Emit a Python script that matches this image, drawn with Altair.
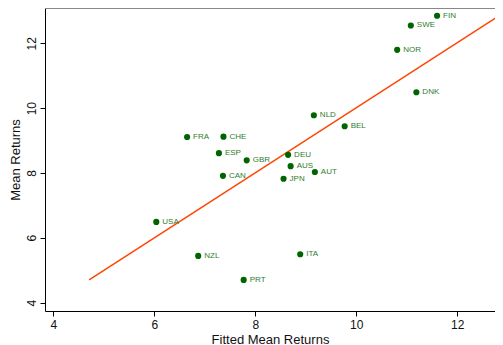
import altair as alt
import pandas as pd

countries = ["FIN", "SWE", "NOR", "DNK", "NLD", "BEL", "DEU", "AUS", "AUT", "JPN", "ITA",
             "FRA", "CHE", "ESP", "GBR", "CAN", "USA", "NZL", "PRT"]
fitted = [11.60, 11.08, 10.81, 11.19, 9.16, 9.77, 8.65, 8.70, 9.18, 8.56, 8.89,
          6.65, 7.37, 7.28, 7.83, 7.36, 6.04, 6.87, 7.77]
mean_ret = [12.85, 12.55, 11.80, 10.49, 9.78, 9.44, 8.56, 8.21, 8.03, 7.82, 5.49,
            9.11, 9.12, 8.61, 8.39, 7.91, 6.49, 5.44, 4.70]
line_x = [4.71, 12.83]
line_y = [4.70, 12.85]

df = pd.DataFrame({"country": countries, "fitted": fitted, "mean": mean_ret})
ldf = pd.DataFrame({"x": line_x, "y": line_y})

W, H = 450, 303
xs = alt.Scale(domain=[3.836, 12.747], nice=False, zero=False)
ys = alt.Scale(domain=[3.74, 13.09], nice=False, zero=False)

xaxis = alt.Axis(title="Fitted Mean Returns", values=[4, 6, 8, 10, 12], grid=False,
                 tickSize=5, labelFontSize=12, titleFontSize=13, labelPadding=3,
                 titlePadding=3, domainColor="black", tickColor="black",
                 labelColor="#111", titleColor="#111", labelFont="Liberation Sans",
                 titleFont="Liberation Sans", titleFontWeight="normal")
yaxis = alt.Axis(title="Mean Returns", values=[4, 6, 8, 10, 12], grid=False,
                 tickSize=5, labelFontSize=12, titleFontSize=13, labelAngle=-90,
                 labelAlign="center", labelBaseline="alphabetic", labelPadding=5,
                 titlePadding=3, domainColor="black", tickColor="black",
                 labelColor="#111", titleColor="#111", labelFont="Liberation Sans",
                 titleFont="Liberation Sans", titleFontWeight="normal")

top_border = alt.Chart(df).mark_rule(color="#888", strokeWidth=1).encode(
    x=alt.value(0), x2=alt.value(W), y=alt.value(0)
)
pts = alt.Chart(df).mark_circle(size=38, color="#006400", opacity=1).encode(
    x=alt.X("fitted:Q", scale=xs, axis=xaxis),
    y=alt.Y("mean:Q", scale=ys, axis=yaxis),
)
labels = alt.Chart(df).mark_text(align="left", baseline="middle", dx=6, fontSize=8,
                                 color="#2f7d2f", font="Liberation Sans").encode(
    x=alt.X("fitted:Q", scale=xs),
    y=alt.Y("mean:Q", scale=ys),
    text="country:N",
)
line = alt.Chart(ldf).mark_line(color="#ff4500", strokeWidth=1.5, clip=False).encode(
    x=alt.X("x:Q", scale=xs),
    y=alt.Y("y:Q", scale=ys),
)

chart = alt.layer(top_border, line, pts, labels).properties(
    width=W, height=H,
    autosize=alt.AutoSizeParams(type="none"),
    padding={"left": 37, "top": 0, "right": 0, "bottom": 34},
).configure_view(stroke=None)

chart.save("out.html", embed_options={"renderer": "svg", "actions": False})
